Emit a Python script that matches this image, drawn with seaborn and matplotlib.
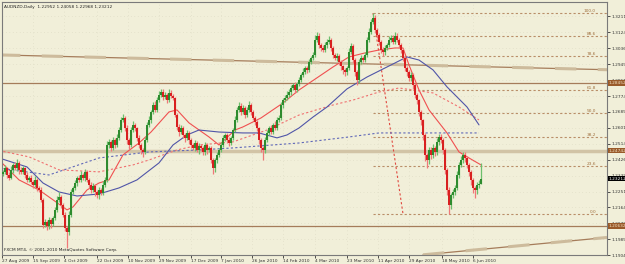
import numpy as np
import pandas as pd
import matplotlib
matplotlib.use('Agg')
import matplotlib.pyplot as plt
import matplotlib.transforms as mtransforms
import seaborn as sns

sns.set_style('white')
plt.rcParams['font.family'] = ['DejaVu Sans']

# daily closes, in pips (x 0.0001)
first_open = 12350
closes = [
    12359, 12380, 12342, 12326, 12370, 12397, 12380, 12408, 12370, 12359,
    12380, 12342, 12315, 12326, 12304, 12288, 12315, 12271, 12260,
    12206, 12069, 12085, 12063, 12096, 12074, 12107, 12151, 12206, 12222,
    12178, 12124, 12052, 12030, 12124, 12249, 12271,
    12298, 12326, 12315, 12342, 12326, 12359, 12315, 12288, 12260, 12282,
    12249, 12233, 12260, 12244, 12288, 12315,
    12506, 12523, 12490, 12534, 12506, 12545, 12588, 12643, 12654, 12599,
    12534, 12506, 12588, 12616, 12599, 12545, 12506, 12479, 12468,
    12534, 12616, 12643, 12687, 12725, 12698, 12752, 12780, 12796, 12769,
    12780, 12752, 12791, 12774, 12763, 12670, 12605,
    12577, 12599, 12561, 12545, 12572, 12534, 12506, 12490, 12517, 12479,
    12501, 12490, 12468, 12506, 12479, 12490, 12424, 12380,
    12424, 12452, 12479, 12506, 12545, 12561, 12534, 12517, 12545, 12588,
    12643, 12698, 12720, 12687, 12709, 12670, 12698, 12725, 12687, 12654, 12632,
    12599, 12534, 12490, 12479, 12534, 12572, 12599, 12577, 12616, 12599,
    12643, 12654, 12725, 12752, 12763, 12780, 12796,
    12818, 12835, 12807, 12840, 12862, 12889, 12906, 12927, 12917, 12960,
    12982, 12999, 13081, 13103, 13053, 13037, 13026, 13053, 13070, 13081,
    13037, 12999, 12982, 12993, 12960, 12938, 12917, 12906, 12927, 13015,
    13048, 12971, 12906, 12862, 12960, 12982, 12971, 12999, 13081, 13124,
    13179, 13201,
    13135, 13108, 13070, 13026, 13015, 13037, 13053, 13081, 13092, 13070,
    13103, 13081, 13053, 13026, 12982, 12927, 12906, 12873, 12889, 12835,
    12780, 12752, 12687, 12643, 12561, 12452, 12424,
    12479, 12452, 12490, 12468, 12523, 12550, 12534, 12479, 12370, 12260,
    12178, 12233, 12249, 12271, 12342, 12397, 12424, 12452, 12435, 12397,
    12359, 12315, 12271, 12260, 12288, 12295, 12321,
]
up_wick = [
    12, 18, 8, 15, 22, 10, 14, 20, 9, 16, 12, 7, 18, 11, 14, 9, 20, 13, 8, 15,
    10, 14, 9, 18, 12, 8, 15, 20, 26, 11, 9, 13, 8, 22, 17, 12, 19, 9, 14, 21,
    12, 16, 10, 8, 13, 18, 9, 11, 15, 12, 20, 14, 24, 18, 11, 16, 9, 20, 15, 18,
    22, 12, 14, 9, 17, 20, 11, 8, 13, 10, 9, 16, 14, 19, 12, 15, 20, 18, 22, 16,
    19, 14, 12, 20, 16, 11, 8, 10, 14, 18, 9, 12, 15, 11, 8, 13, 17, 10, 14, 12,
    9, 15, 11, 13, 8, 10, 12, 16, 9, 14, 18, 12, 10, 15, 9, 13, 20, 16, 22, 14,
    18, 12, 15, 20, 11, 9, 13, 10, 8, 12, 9, 14, 17, 11, 16, 12, 19, 15, 14, 18,
    12, 16, 20, 14, 18, 11, 15, 13, 17, 12, 20, 14, 10, 16, 12, 18, 25, 22, 15, 12,
    14, 18, 16, 20, 11, 9, 13, 15, 10, 12, 8, 11, 14, 20, 18, 10, 9, 12, 16, 14,
    12, 18, 15, 20, 16, 27, 14, 12, 10, 9, 15, 18, 13, 20, 16, 14, 22, 15, 12, 10,
    9, 11, 14, 10, 16, 12, 9, 11, 8, 10, 7, 12, 9, 18, 14, 20, 12, 22, 18, 15,
    10, 8, 9, 14, 12, 18, 15, 20, 16, 22, 18, 14, 10, 9, 11, 8, 12, 16, 20, 84,
]
down_wick = [
    14, 9, 16, 12, 8, 18, 11, 15, 20, 10, 13, 17, 9, 14, 12, 19, 10, 16, 11, 14,
    18, 12, 20, 15, 22, 11, 14, 9, 13, 16, 12, 18, 87, 15, 10, 12, 9, 14, 11, 13,
    10, 15, 12, 18, 14, 9, 20, 16, 22, 13, 11, 14, 10, 15, 18, 12, 14, 9, 11, 10,
    9, 14, 20, 25, 11, 12, 15, 18, 14, 20, 28, 12, 9, 11, 14, 10, 12, 9, 13, 11,
    14, 10, 16, 12, 9, 13, 11, 15, 20, 12, 18, 22, 14, 20, 16, 12, 18, 14, 22, 16,
    18, 14, 20, 12, 16, 35, 22, 14, 10, 12, 9, 15, 18, 14, 11, 9, 12, 10, 14, 16,
    12, 15, 11, 13, 16, 12, 18, 14, 20, 24, 55, 15, 12, 14, 10, 13, 9, 11, 12, 10,
    14, 9, 12, 10, 15, 13, 18, 11, 9, 12, 10, 14, 16, 11, 13, 10, 9, 12, 15, 14,
    12, 10, 14, 9, 16, 18, 12, 14, 16, 20, 22, 25, 15, 12, 10, 18, 22, 30, 14, 12,
    10, 13, 9, 11, 8, 12, 16, 14, 18, 15, 20, 14, 12, 10, 13, 11, 9, 14, 16, 18,
    14, 16, 20, 18, 15, 22, 18, 24, 20, 28, 30, 36, 44, 20, 24, 16, 22, 14, 18, 15,
    20, 25, 30, 49, 22, 18, 16, 12, 14, 10, 16, 20, 15, 24, 30, 28, 43, 20, 18, 2,
]

# moving averages (bar index, price in pips)
ma_fast_bar = [-2, 8, 18, 25, 32, 35, 42, 48, 53, 60, 68, 74, 83, 87, 93, 103, 108, 116,
               120, 129, 140, 148, 165, 173, 181, 188, 196, 200, 203, 208, 213, 222, 228, 233, 239]
ma_fast = [12424, 12315, 12260, 12206, 12151, 12167, 12260, 12298, 12315, 12452, 12517, 12577,
           12687, 12698, 12627, 12550, 12506, 12588, 12605, 12654, 12736, 12807, 12933, 12988,
           13010, 13026, 13037, 13037, 12944, 12807, 12698, 12572, 12468, 12435, 12397]
ma_slow_bar = [-2, 13, 28, 48, 65, 73, 87, 98, 115, 132, 148, 165, 175, 188, 198, 215, 228, 238]
ma_slow = [12476, 12441, 12370, 12359, 12397, 12424, 12479, 12506, 12523, 12588, 12670, 12725,
           12752, 12796, 12818, 12791, 12714, 12643]
ma_blue_bar = [-2, 12, 20, 28, 37, 48, 58, 67, 78, 85, 92, 98, 108, 120, 128, 137, 142, 148,
               155, 162, 172, 182, 192, 202, 208, 215, 222, 232, 238]
ma_blue = [12435, 12386, 12298, 12249, 12227, 12238, 12271, 12315, 12408, 12506, 12561, 12588,
           12577, 12572, 12572, 12545, 12561, 12599, 12659, 12714, 12813, 12878, 12933, 12988,
           12971, 12917, 12824, 12714, 12616]
ma_long_bar = [-2, 23, 48, 73, 98, 115, 148, 173, 188, 198, 238]
ma_long = [12380, 12342, 12435, 12468, 12479, 12490, 12517, 12550, 12572, 12572, 12572]

# drawn objects
hlines = [12845, 12474, 12063]
fib_high, fib_low = 13228, 12129
fib_levels = [100.0, 88.6, 78.6, 61.8, 50.0, 38.2, 23.6, 0.0]
trend_top = ([-2, 302], [12999, 12918])
trend_bottom = ([210, 302], [11905, 12000])

date_bars = [-0.5, 15, 30.5, 47, 62.5, 78, 94, 109, 124.5, 140, 156, 172, 187.5, 203, 219.5, 235]
date_labels = ['27 Aug 2009', '15 Sep 2009', '4 Oct 2009', '22 Oct 2009', '10 Nov 2009',
               '29 Nov 2009', '17 Dec 2009', '7 Jan 2010', '26 Jan 2010', '14 Feb 2010',
               '4 Mar 2010', '23 Mar 2010', '11 Apr 2010', '29 Apr 2010', '18 May 2010',
               '6 Jun 2010']
price_ticks = ['1.32115', '1.31240', '1.30365', '1.29490', '1.28615', '1.27740', '1.26890',
               '1.26015', '1.25140', '1.24265', '1.23390', '1.22515', '1.21640', '1.20765',
               '1.19890', '1.19040']

bg = '#F1EFD9'
fs = 3.1
c = np.array(closes) / 1e4
o = np.concatenate([[first_open / 1e4], c[:-1]])
hi = np.maximum(o, c) + np.array(up_wick) / 1e4
lo = np.minimum(o, c) - np.array(down_wick) / 1e4
x = np.arange(len(c))
up = c >= o

fig = plt.figure(figsize=(6.25, 2.64), dpi=100, facecolor=bg)
ax = fig.add_axes([2 / 625, 9 / 264, 605 / 625, 253 / 264])
ax.set_facecolor(bg)
ax.set_xlim(-0.5, 302)
ax.set_ylim(1.19046, 1.32886)

# grid
for v in price_ticks:
    ax.axhline(float(v), color='#DAD7C0', lw=0.5, ls=(0, (1, 4)), zorder=0)
for b in date_bars[1:]:
    ax.axvline(b, color='#DAD7C0', lw=0.5, ls=(0, (1, 4)), zorder=0)

# horizontal + trend lines
for h in hlines:
    ax.axhline(h / 1e4, color='#A57C5A', lw=0.9, zorder=1)
ax.axhline(hlines[1] / 1e4, color='#D2C4A6', lw=2.5, zorder=1)
for tx, ty in [trend_top, trend_bottom]:
    ax.plot(tx, np.array(ty) / 1e4, color='#A57C5A', lw=0.9, zorder=1)
    ax.plot(tx, np.array(ty) / 1e4, color='#CDBB9C', lw=2.2, ls=(0, (7, 7)), zorder=1)

# fibonacci
rng = fib_high - fib_low
for lev in fib_levels:
    yv = (fib_low + rng * lev / 100) / 1e4
    ax.plot([185, 302], [yv, yv], color='#B98E68', lw=0.8, ls=(0, (2, 2)), zorder=1)
    ax.text(296.5, yv, f'{lev:.1f}', fontsize=fs, color='#A0703F', ha='right', va='bottom')
ax.plot([185, 200], [fib_high / 1e4, fib_low / 1e4], color='#E0483F', lw=0.8,
        ls=(0, (2, 2)), zorder=1)

# moving averages
ma = pd.DataFrame({'bar': ma_fast_bar, 'price': np.array(ma_fast) / 1e4})
sns.lineplot(data=ma, x='bar', y='price', ax=ax, color='#F05050', lw=0.8, zorder=2)
ma = pd.DataFrame({'bar': ma_slow_bar, 'price': np.array(ma_slow) / 1e4})
sns.lineplot(data=ma, x='bar', y='price', ax=ax, color='#F07070', lw=0.8,
             linestyle=(0, (2, 2)), zorder=2)
ma = pd.DataFrame({'bar': ma_blue_bar, 'price': np.array(ma_blue) / 1e4})
sns.lineplot(data=ma, x='bar', y='price', ax=ax, color='#5055A8', lw=0.8, zorder=2)
ma = pd.DataFrame({'bar': ma_long_bar, 'price': np.array(ma_long) / 1e4})
sns.lineplot(data=ma, x='bar', y='price', ax=ax, color='#6068B8', lw=0.8,
             linestyle=(0, (2, 2)), zorder=2)

# candles
col = np.where(up, '#2E8B2E', '#D82020')
wcol = np.where(up, '#6CBF6C', '#F07878')
ax.vlines(x, lo, hi, colors=wcol, lw=0.9, zorder=3)
ax.bar(x, np.maximum(np.abs(c - o), 0.0002), bottom=np.minimum(o, c), width=0.7,
       color=col, zorder=4, linewidth=0)

# axes
ax.yaxis.tick_right()
ax.set_yticks([float(v) for v in price_ticks])
ax.set_yticklabels(price_ticks)
ax.set_xticks(date_bars)
ax.set_xticklabels(date_labels)
for lab in ax.get_xticklabels():
    lab.set_ha('left')
ax.tick_params(axis='both', labelsize=fs, length=2.2, width=0.6, pad=1, colors='#333333',
               direction='out')
ax.tick_params(axis='y', right=True, left=False)
ax.tick_params(axis='x', bottom=True)
ax.set_xlabel('')
ax.set_ylabel('')
for s in ax.spines.values():
    s.set_color('#7A7A7A')
    s.set_linewidth(0.8)

# price boxes on the right
tr = mtransforms.blended_transform_factory(ax.transAxes, ax.transData)
for yv, txt, fc, tc in [(hlines[0], '1.28452', '#9A5A2A', '#F4E6C8'),
                        (hlines[1], '1.24742', '#9A5A2A', '#F4E6C8'),
                        (12321, '1.23212', '#000000', '#FFFFFF'),
                        (hlines[2], '1.20632', '#9A5A2A', '#F4E6C8')]:
    ax.text(1.003, yv / 1e4, txt, transform=tr, fontsize=fs, color=tc, ha='left',
            va='center', bbox=dict(boxstyle='square,pad=0.15', fc=fc, ec='none'),
            clip_on=False)

ax.text(0.004, 0.988, 'AUDNZD,Daily  1.22952 1.24058 1.22968 1.23212', transform=ax.transAxes,
        fontsize=fs, color='#222222', ha='left', va='top')
ax.text(0.004, 0.012, 'FXCM MT4, © 2001-2010 MetaQuotes Software Corp.', transform=ax.transAxes,
        fontsize=fs, color='#222222', ha='left', va='bottom')

fig.savefig('out.png', dpi=100, facecolor=bg)
